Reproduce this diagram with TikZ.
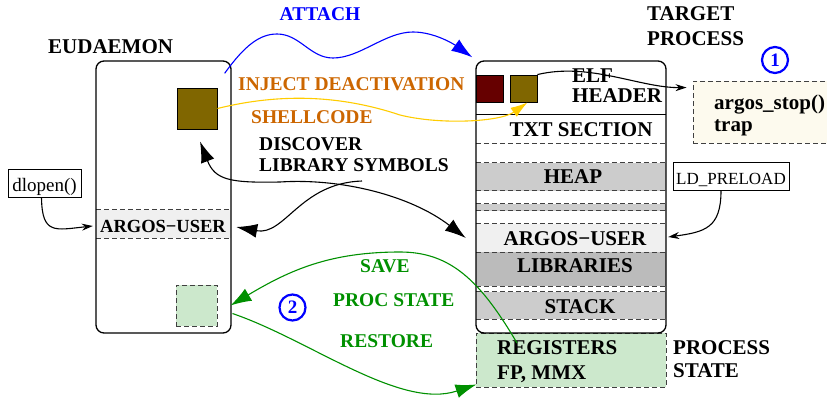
\documentclass[tikz,border=0pt]{standalone}
\usepackage{fontspec}
\setmainfont{Liberation Serif}
\usetikzlibrary{arrows.meta}
\definecolor{myolive}{RGB}{128,102,0}
\definecolor{mydarkred}{RGB}{102,0,0}
\definecolor{myorange}{RGB}{204,102,0}
\definecolor{myyellow}{RGB}{255,204,0}
\definecolor{mygreen}{RGB}{0,144,0}
\definecolor{greenfill}{RGB}{204,232,204}
\definecolor{bandlight}{RGB}{240,240,240}
\definecolor{bandgray}{RGB}{204,204,204}
\definecolor{banddark}{RGB}{187,187,187}
\definecolor{cream}{RGB}{253,250,238}
\definecolor{myblue}{RGB}{0,0,255}
\begin{document}
\begin{tikzpicture}[x=1pt,y=-1pt,
  lbl/.style={font=\fontsize{19.5}{22}\selectfont\bfseries, inner sep=0},
  big/.style={font=\fontsize{21}{24}\selectfont\bfseries, inner sep=0},
  procbox/.style={draw, line width=1.3pt, rounded corners=8pt, inner sep=0},
  band/.style={inner sep=0, minimum width=190, draw=none},
  dashln/.style={dash pattern=on 5pt off 3pt, line width=0.9pt, draw=black!75},
  sq/.style={draw, line width=0.9pt, inner sep=0, minimum size=27},
  conn/.style={line width=1.1pt},
  bigtip/.style={-{Latex[length=21pt,width=14pt]}},
  midtip/.style={-{Latex[length=17pt,width=11pt]}},
  smalltip/.style={-{Stealth[length=11pt,width=7pt]}},
  smallbox/.style={draw, line width=0.9pt, inner sep=0},
  numcirc/.style={circle, draw=myblue, line width=2.2pt, minimum size=26, inner sep=0, text=myblue, font=\fontsize{19}{20}\selectfont\bfseries},
]
\useasboundingbox (0,0) rectangle (827,402);
\clip (0,0) rectangle (827,402);

% ---------- EUDAEMON ----------
\node[band, minimum width=135, minimum height=28, fill=bandlight] (eargos) at (163.5,224) {};
\draw[dashln] (eargos.north west) -- (eargos.north east);
\draw[dashln] (eargos.south west) -- (eargos.south east);
\node[procbox, minimum width=135, minimum height=272] (eud) at (163.5,197) {};
\node[sq, fill=myolive, minimum width=40, minimum height=41] (eolive) at (197,108.5) {};
\node[sq, dashln, fill=greenfill, minimum size=41] (egreen) at (196.5,305.5) {};
\node[big, anchor=base west] (eudlbl) at (48,53) {EUDAEMON};
\node[font=\fontsize{18.5}{20}\selectfont\bfseries, inner sep=0, anchor=base] (eargoslbl) at (163,232) {ARGOS−USER};

% ---------- TARGET PROCESS ----------
\node[band, minimum height=54, dashln, fill=greenfill, minimum width=190] (pstate) at (571,360) {};
\node[band, minimum height=28] (txtsec) at (571,129) {};
\node[band, minimum height=27.7, fill=bandgray] (heap) at (571,176.85) {};
\node[band, minimum height=7, fill=bandgray] (thin) at (571,207) {};
\node[band, minimum height=28, fill=bandlight] (targos) at (571,238) {};
\node[band, minimum height=34, fill=banddark] (libs) at (571,269) {};
\node[band, minimum height=27, fill=bandgray] (stack) at (571,305.5) {};
\draw[line width=1.3pt] (txtsec.north west) -- (txtsec.north east);
\draw[dashln] (txtsec.south west) -- (txtsec.south east);
\draw[dashln] (heap.north west) -- (heap.north east);
\draw[dashln] (heap.south west) -- (heap.south east);
\draw[dashln] (thin.north west) -- (thin.north east);
\draw[dashln] (thin.south west) -- (thin.south east);
\draw[dashln] (targos.north west) -- (targos.north east);
\draw[dashln] (targos.south west) -- (targos.south east);
\draw[dashln] (libs.south west) -- (libs.south east);
\draw[dashln] (stack.north west) -- (stack.north east);
\draw[dashln] (stack.south west) -- (stack.south east);
\node[procbox, minimum width=190, minimum height=272] (tgt) at (571,197) {};
\node[sq, fill=mydarkred] (tred) at (489.5,88.5) {};
\node[sq, fill=myolive] (tolive) at (523.5,88.5) {};

\node[big, anchor=base west] (tp1) at (647,20) {TARGET};
\node[big, anchor=base west] (tp2) at (647,45) {PROCESS};
\node[big, anchor=base west] (elf1) at (572,82) {ELF};
\node[big, anchor=base west] (elf2) at (572,102) {HEADER};
\node[big, anchor=base] (txtlbl) at (581,136) {TXT SECTION};
\node[big, anchor=base] (heaplbl) at (573,183) {HEAP};
\node[big, anchor=base] (targoslbl) at (575,245) {ARGOS−USER};
\node[big, anchor=base] (libslbl) at (575,272) {LIBRARIES};
\node[big, anchor=base] (stacklbl) at (580,313) {STACK};
\node[big, anchor=base west] (reg1) at (497,354) {REGISTERS};
\node[big, anchor=base west] (reg2) at (497,379) {FP, MMX};
\node[big, anchor=base west] (ps1) at (673,354) {PROCESS};
\node[big, anchor=base west] (ps2) at (673,377) {STATE};

% ---------- argos_stop box ----------
\node[band, dashln, fill=cream, minimum width=147, minimum height=62] (argbox) at (766.5,112) {};
\node[big, anchor=base west] (arg1) at (714,109) {argos\_stop()};
\node[big, anchor=base west] (arg2) at (714,131) {trap};
\node[numcirc] (c1) at (775,60) {1};

% ---------- small boxes ----------
\node[smallbox, minimum width=73, minimum height=28, font=\fontsize{19}{20}\selectfont, text height=18pt, text depth=2pt] (dlopen) at (44.5,183) {dlopen()};
\node[smallbox, minimum width=116, minimum height=27.5, font=\fontsize{17}{18}\selectfont, text height=16pt, text depth=1pt] (ldp) at (731,176.5) {LD\_PRELOAD};

% ---------- middle labels ----------
\node[lbl, text=myblue, anchor=base] (attachlbl) at (320,20) {ATTACH};
\node[lbl, text=myorange, anchor=base west] (inj1) at (238,90) {INJECT DEACTIVATION};
\node[lbl, text=myorange, anchor=base west] (inj2) at (251,123) {SHELLCODE};
\node[lbl, anchor=base west] (disc1) at (259,150) {DISCOVER};
\node[lbl, anchor=base west] (disc2) at (259,171) {LIBRARY SYMBOLS};
\node[lbl, text=mygreen, anchor=base west] (save) at (360,272) {SAVE};
\node[lbl, text=mygreen, anchor=base west] (procst) at (333,306) {PROC STATE};
\node[lbl, text=mygreen, anchor=base west] (restore) at (340,347) {RESTORE};
\node[numcirc] (c2) at (292.5,307.5) {2};

% ---------- connectors ----------
\draw[conn, myblue, bigtip] ([shift={(-7,13)}]eud.north east)
  .. controls (245,45) and (260,34) .. (277,34)
  .. controls (300,34) and (310,58) .. (333,58)
  .. controls (360,58) and (385,32) .. (413,32)
  .. controls (435,32) and (455,45) .. ([shift={(-3,-3)}]tgt.north west);
\draw[conn, myyellow, midtip] (eolive.east)
  .. controls (280,93) and (340,95) .. (400,115)
  .. controls (440,125) and (500,122) .. ([xshift=4]tolive.south);
\draw[conn, smalltip] (tolive.north east)
  .. controls (590,62) and (640,88) .. ([shift={(-6,7)}]argbox.north west);
\coordinate (dsplit) at (362,181);
\draw[conn, {Latex[length=21pt,width=14pt]}-{Latex[length=21pt,width=14pt]}]
  ([shift={(3,12)}]eolive.south)
  .. controls (215,180) and (230,183) .. (280,182)
  .. controls (340,178) and (410,195) .. ([xshift=-10]targos.west);
\draw[conn, bigtip] (dsplit)
  .. controls (300,183) and (285,236) .. ([shift={(5,3)}]eargos.east);
\draw[conn, mygreen, bigtip] ([shift={(20,-11)}]reg1.base west)
  .. controls (480,280) and (450,252) .. (400,252)
  .. controls (330,252) and (290,270) .. ([xshift=13]egreen.east);
\draw[conn, mygreen, bigtip] ([shift={(15,8)}]egreen.east)
  .. controls (310,340) and (400,410) .. ([shift={(1,-3)}]pstate.south west);
\draw[conn, smalltip] ([xshift=-3]dlopen.south)
  .. controls (42,235) and (55,230) .. ([shift={(-3,2)}]eargos.west);
\draw[conn, smalltip] ([xshift=-10]ldp.south)
  .. controls (721,228) and (705,232) .. ([shift={(2,-1)}]targos.east);
\end{tikzpicture}
\end{document}
